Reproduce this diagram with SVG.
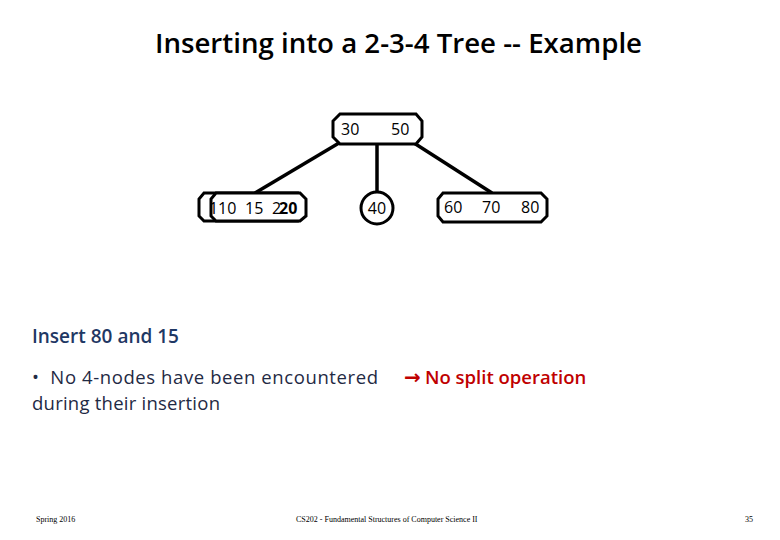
<svg xmlns="http://www.w3.org/2000/svg" width="780" height="540" viewBox="0 0 780 540">
<style>
.n{fill:#fff;stroke:#000;stroke-width:3}
.t{font-family:"Open Sans","Liberation Sans",sans-serif;font-size:16px;fill:#000}
.c line{stroke:#000;stroke-width:3.5}
.f{font-family:"Liberation Serif",serif;font-size:8px;fill:#000}
</style>
<rect width="780" height="540" fill="#fff"/>
<text x="155" y="53" textLength="487" lengthAdjust="spacingAndGlyphs" font-family="Open Sans,Liberation Sans,sans-serif" font-weight="600" font-size="27" fill="#000">Inserting into a 2-3-4 Tree -- Example</text>
<g class="c">
<line x1="339" y1="143" x2="255" y2="193"/>
<line x1="377" y1="143" x2="377" y2="192"/>
<line x1="414" y1="143" x2="492" y2="193"/>
</g>
<g id="root"><polygon class="n" points="340,114 416,114 422,121 422,137 416,144 340,144 333,137 333,121"/>
<text class="t" x="341" y="135">30</text><text class="t" x="391" y="135">50</text></g>
<g id="left"><polygon class="n" points="204,193 298,193 303,199 303,216 298,221 204,221 199,216 199,199"/>
<polygon class="n" points="216,193 300,193 306,199 306,216 300,221 216,221 211,216 211,199"/>
<text class="t" x="209" y="214">1</text><text class="t" x="218" y="214">10</text><text class="t" x="245" y="214">15</text><text class="t" x="272" y="214">2</text><text class="t" x="279" y="214" font-weight="bold">20</text></g>
<g id="mid"><circle class="n" cx="377" cy="208" r="16"/><text class="t" x="377" y="214" text-anchor="middle">40</text></g>
<g id="right"><polygon class="n" points="443,193 541,193 547,199 547,216 541,222 443,222 438,216 438,199"/>
<text class="t" x="444" y="213">60</text><text class="t" x="482" y="213">70</text><text class="t" x="521" y="213">80</text></g>
<text x="32" y="343" font-family="Open Sans,Liberation Sans,sans-serif" font-weight="600" font-size="19" fill="#1f3864">Insert 80 and 15</text>
<text x="32" y="384" textLength="346" lengthAdjust="spacing" font-family="Open Sans,Liberation Sans,sans-serif" font-size="18.5" fill="#1f2a44" xml:space="preserve">•  No 4-nodes have been encountered</text>
<text x="32" y="410" textLength="188" lengthAdjust="spacing" font-family="Open Sans,Liberation Sans,sans-serif" font-size="18.5" fill="#1f2a44">during their insertion</text>
<text x="404" y="384" font-family="DejaVu Sans,sans-serif" font-weight="bold" font-size="20" fill="#c00000">→</text>
<text x="425" y="384" font-family="Open Sans,Liberation Sans,sans-serif" font-weight="600" font-size="18.5" fill="#c00000">No split operation</text>
<text class="f" x="36" y="522">Spring 2016</text>
<text class="f" x="296" y="522">CS202 - Fundamental Structures of Computer Science II</text>
<text class="f" x="745" y="522">35</text>
</svg>
